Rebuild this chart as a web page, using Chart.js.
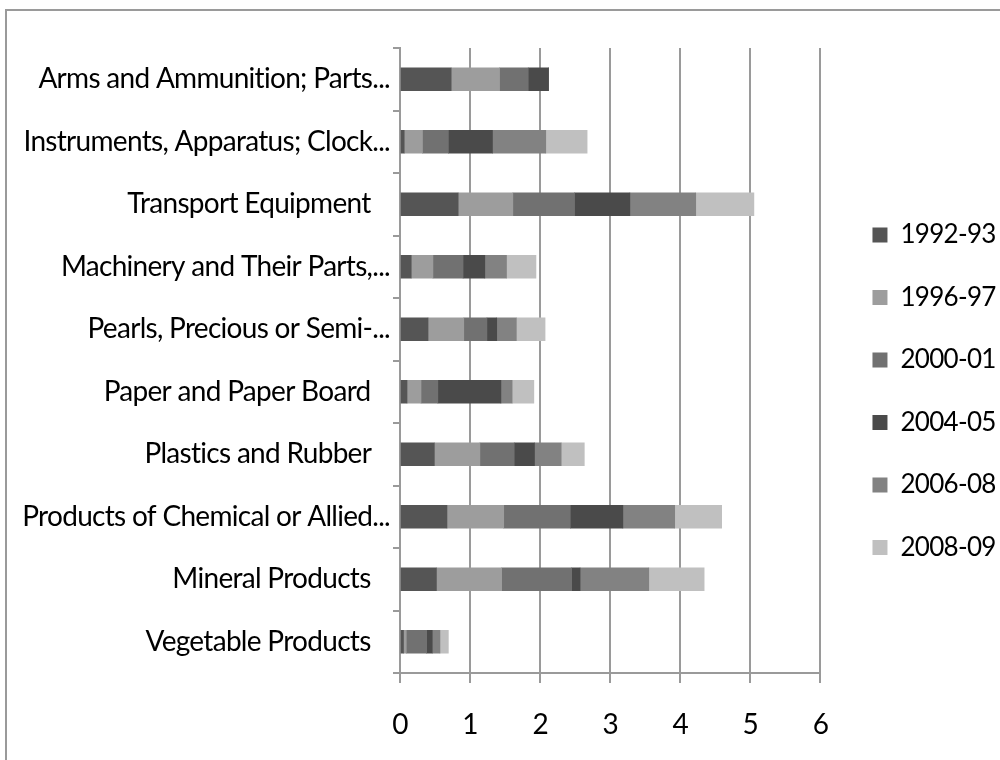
<!DOCTYPE html>
<html>
<head>
<meta charset="utf-8">
<script src="https://cdn.jsdelivr.net/npm/chart.js@4.4.1/dist/chart.umd.min.js"></script>
<style>
  html, body { margin: 0; padding: 0; background: #fff; overflow: hidden; }
  #frame { position: absolute; left: 5px; top: 9px; width: 1100px; height: 900px; border: 2px solid #9a9a9a; }
  #wrap { position: absolute; left: 0; top: 0; width: 1000px; height: 760px; }
</style>
</head>
<body>
<div id="frame"></div>
<div id="wrap"><canvas id="myChart" width="1000" height="760"></canvas></div>
<script>
// categories, top to bottom
const categories = [
  'Arms and Ammunition; Parts...',
  'Instruments, Apparatus; Clock...',
  'Transport Equipment\u00a0\u00a0\u00a0',
  'Machinery and Their Parts,...',
  'Pearls, Precious or Semi-...',
  'Paper and Paper Board\u00a0\u00a0\u00a0',
  'Plastics and Rubber\u00a0\u00a0\u00a0',
  'Products of Chemical or Allied...',
  'Mineral Products\u00a0\u00a0\u00a0',
  'Vegetable Products\u00a0\u00a0\u00a0'
];

const seriesNames = ['1992-93', '1996-97', '2000-01', '2004-05', '2006-08', '2008-09'];

const v1992 = [0.73, 0.06, 0.83, 0.16, 0.40, 0.10, 0.49, 0.67, 0.52, 0.05];
const v1996 = [0.69, 0.26, 0.78, 0.31, 0.51, 0.20, 0.65, 0.81, 0.93, 0.04];
const v2000 = [0.41, 0.37, 0.88, 0.43, 0.33, 0.24, 0.49, 0.95, 1.00, 0.29];
const v2004 = [0.29, 0.63, 0.79, 0.31, 0.14, 0.90, 0.29, 0.75, 0.12, 0.08];
const v2006 = [0.00, 0.76, 0.94, 0.31, 0.28, 0.16, 0.38, 0.74, 0.98, 0.11];
const v2008 = [0.00, 0.59, 0.83, 0.42, 0.41, 0.31, 0.33, 0.67, 0.79, 0.12];

const xTicks = [0, 1, 2, 3, 4, 5, 6];

const colors = ['#555555', '#9d9d9d', '#717171', '#4a4a4a', '#828282', '#c0c0c0'];
const allValues = [v1992, v1996, v2000, v2004, v2006, v2008];

const FONT = 'Lato, "Liberation Sans", sans-serif';
const GRID = '#9a9a9a';
const SPACING = '-0.7px';   // squeeze the text a bit, the original font is narrow
const LEG_SIZE = 26, LEG_BOX = 15, LEG_PAD = 36.5;
const LEG_X = 873;          // where the legend boxes should start

const squeeze = {
  id: 'squeeze',
  beforeUpdate: c => { c.ctx.letterSpacing = SPACING; },
  beforeLayout: c => { c.ctx.letterSpacing = SPACING; },
  beforeDraw: c => { c.ctx.letterSpacing = SPACING; }
};

const datasets = seriesNames.map((name, i) => ({
  label: name,
  data: allValues[i],
  backgroundColor: colors[i],
  borderWidth: 0,
  barThickness: 23
}));

const ctx = document.getElementById('myChart');
const chart = new Chart(ctx, {
  type: 'bar',
  data: { labels: categories, datasets: datasets },
  plugins: [squeeze],
  options: {
    indexAxis: 'y',
    responsive: false,
    animation: false,
    devicePixelRatio: 1,
    layout: { padding: { left: 0, right: 0, top: 48, bottom: 25.5 } },
    scales: {
      x: {
        stacked: true,
        min: 0,
        max: 6,
        afterBuildTicks: s => { s.ticks = xTicks.map(v => ({ value: v })); },
        afterFit: s => { s.height = 61.5; },
        grid: { color: GRID, lineWidth: 2, tickLength: 10, drawTicks: true },
        border: { color: GRID, width: 2 },
        ticks: { color: '#000', padding: 25, font: { family: FONT, size: 28 } }
      },
      y: {
        stacked: true,
        afterFit: s => { s.width = 400; },
        grid: { drawOnChartArea: false, color: GRID, lineWidth: 2, tickLength: 7 },
        border: { color: GRID, width: 2 },
        ticks: { color: '#000', padding: 3, font: { family: FONT, size: 28 } }
      },
      // spacer between plot and legend
      y2: {
        type: 'linear',
        position: 'right',
        display: true,
        grid: { display: false },
        border: { display: false },
        ticks: { display: false },
        afterFit: s => { s.width = 15.5; }
      }
    },
    plugins: {
      legend: {
        position: 'right',
        labels: {
          color: '#000',
          boxWidth: LEG_BOX,
          boxHeight: LEG_BOX,
          padding: LEG_PAD,
          font: { family: FONT, size: LEG_SIZE }
        }
      },
      tooltip: { enabled: false }
    }
  }
});

// move the legend so its boxes sit at LEG_X
const shift = chart.legend.left + LEG_PAD - LEG_X;
chart.config.options.layout.padding.right += shift;
chart.update();
</script>
</body>
</html>
